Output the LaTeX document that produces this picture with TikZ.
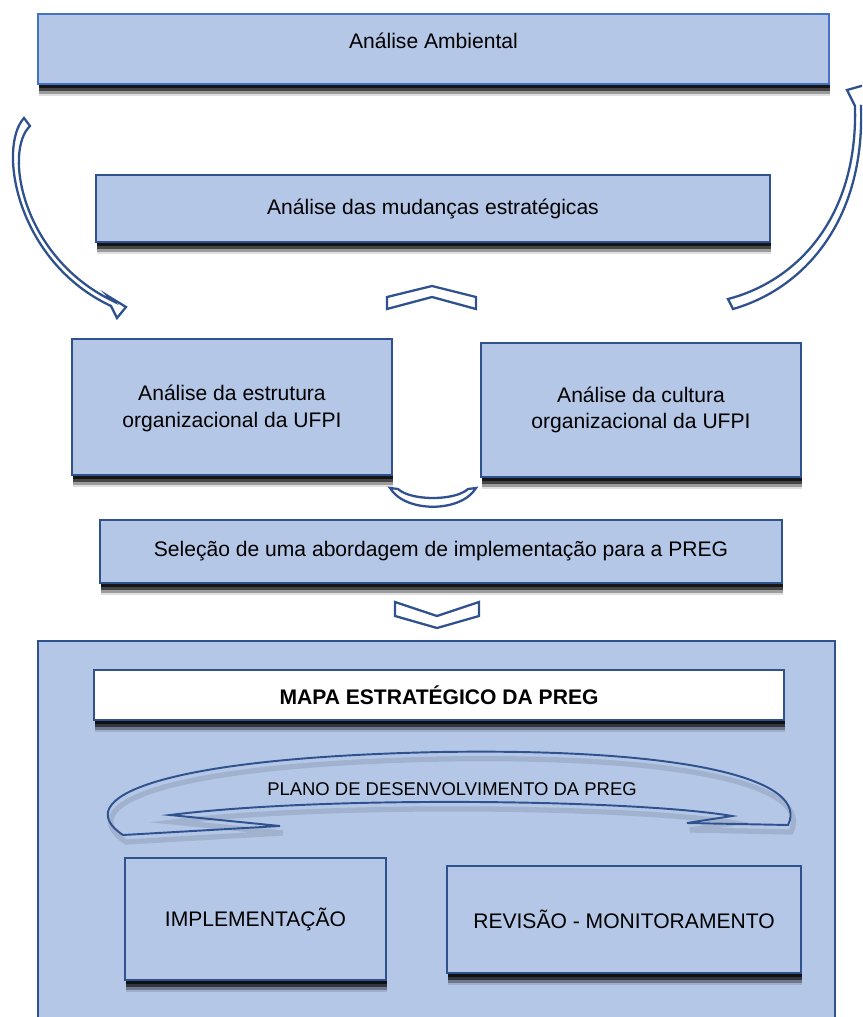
\documentclass[tikz,border=0pt]{standalone}
\usepackage{fontspec}
\setmainfont{Liberation Sans}
\usetikzlibrary{shadows}

\definecolor{boxfill}{RGB}{180,199,231}
\definecolor{boxline}{RGB}{47,82,143}
\definecolor{topline}{RGB}{68,114,196}

\begin{document}
\begin{tikzpicture}[x=0.02cm,y=-0.02cm,
  box/.style={rectangle,draw=boxline,line width=1.2pt,fill=boxfill,align=center,
    font=\fontsize{12}{15}\selectfont,
    drop shadow={shadow xshift=0.5pt,shadow yshift=-7pt,opacity=0.12,fill=black},
    drop shadow={shadow xshift=0.8pt,shadow yshift=-5.5pt,opacity=0.3,fill=black},
    drop shadow={shadow xshift=0.8pt,shadow yshift=-4pt,opacity=0.55,fill=black},
    drop shadow={shadow xshift=0.5pt,shadow yshift=-2.5pt,opacity=0.7,fill=black}},
  hollow/.style={draw=boxline,line width=1.3pt,fill=white,line join=miter}]
\useasboundingbox (0,0) rectangle (862,1017);
\clip (0,0) rectangle (862,1017);

\path (433.5,49) node[box,draw=topline,minimum width=15.82cm,minimum height=1.4cm,text depth=9pt] (amb) {Análise Ambiental};
\path (433,208.5) node[box,minimum width=13.48cm,minimum height=1.34cm] (mud) {Análise das mudanças estratégicas};
\path (232,407) node[box,minimum width=6.4cm,minimum height=2.72cm,text depth=1pt] (estr) {Análise da estrutura\\organizacional da UFPI};
\path (641,410) node[box,minimum width=6.4cm,minimum height=2.68cm] (cult) {Análise da cultura\\organizacional da UFPI};
\path (441,551.5) node[box,minimum width=13.64cm,minimum height=1.26cm] (sel) {Seleção de uma abordagem de implementação para a PREG};

% painel inferior
\path (436.5,835.5) node[box,minimum width=15.94cm,minimum height=7.78cm] (plan) {};
\path (439,695) node[box,fill=white,minimum width=13.8cm,minimum height=1.0cm,font=\fontsize{12}{15}\selectfont\bfseries] (mapa) {MAPA ESTRATÉGICO DA PREG};
\path (255.5,919) node[box,minimum width=5.22cm,minimum height=2.44cm] (impl) {IMPLEMENTAÇÃO};
\path (624,919.5) node[box,minimum width=7.08cm,minimum height=2.14cm] (rev) {REVISÃO - MONITORAMENTO};

% faixa curva
\draw[black,opacity=0.1,line width=3pt,shift={(3,7)}] (123,835) .. controls (70,800) and (150,758) .. (440,752)
  .. controls (690,748) and (810,780) .. (788,825) -- (687,823) -- (732,816)
  .. controls (640,800) and (330,795) .. (170,815) -- (280,826) -- cycle;
\draw[boxline,line width=1.1pt,line join=miter] (123,835) .. controls (70,800) and (150,758) .. (440,752)
  .. controls (690,748) and (810,780) .. (788,825) -- (687,823) -- (732,816)
  .. controls (640,800) and (330,795) .. (170,815) -- (280,826) -- cycle;
\path (452,789) node[font=\fontsize{10.5}{12}\selectfont] (devplan) {PLANO DE DESENVOLVIMENTO DA PREG};

% setas curvas laterais
\draw[hollow] (24,118) .. controls (-3,148) and (17,262) .. (111,306)
  -- (117,318) -- (126,307) -- (108,296) -- (113,301)
  .. controls (23,258) and (3,152) .. (30,126) -- cycle;
\draw[hollow] (733,309) .. controls (803,289) and (865,222) .. (861,106)
  -- (880,110) -- (872,83) -- (847,90) -- (855,106)
  .. controls (858,218) and (797,281) .. (728,299) -- cycle;

% setas entre as caixas
\draw[hollow] (387,297) -- (432,286) -- (476,297) -- (476,309) -- (432,297) -- (387,309) -- cycle;
\draw[hollow] (390,488) .. controls (405,513) and (461,513) .. (476,488) -- (468,489)
  .. controls (455,501) and (411,501) .. (398,489) -- cycle;
\draw[hollow] (395,602) -- (437,616) -- (479,602) -- (479,616) -- (437,628) -- (395,616) -- cycle;
\end{tikzpicture}
\end{document}
